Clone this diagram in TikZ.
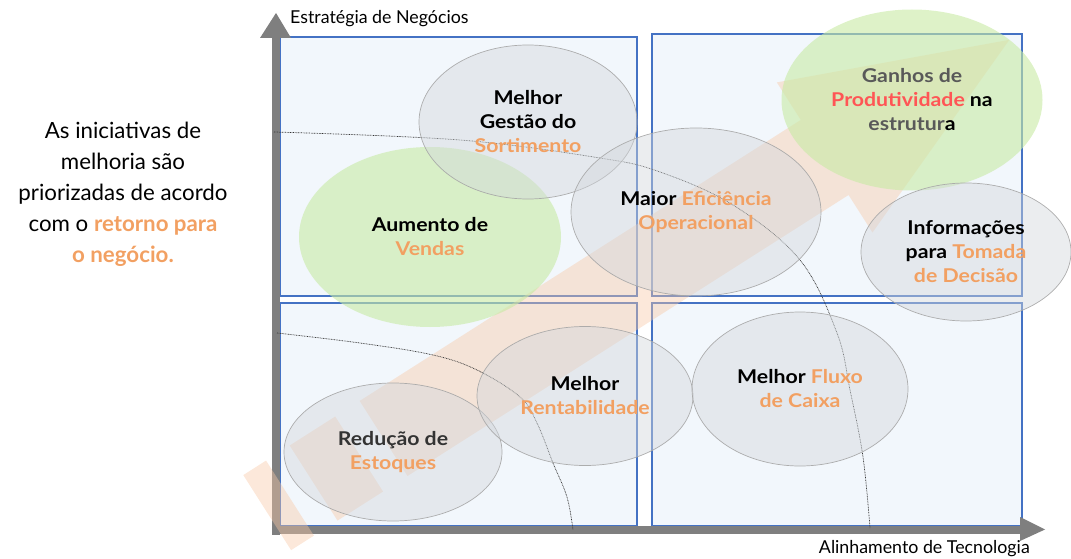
\documentclass[tikz,border=0pt]{standalone}
\usepackage{fontspec}
\setmainfont{Lato}
\newfontfamily\widefont[FakeStretch=1.12]{Lato}
\usetikzlibrary{shapes.geometric}
\definecolor{qblue}{HTML}{4472C4}
\definecolor{qfill}{HTML}{F2F7FC}
\definecolor{axgray}{HTML}{7F7F7F}
\definecolor{peach}{HTML}{F8C8A6}
\definecolor{orng}{HTML}{F2A062}
\definecolor{redt}{HTML}{FF5555}
\definecolor{dgray}{HTML}{595959}
\definecolor{ellfill}{HTML}{D3D7DC}
\definecolor{ellline}{HTML}{A6A6A6}
\definecolor{grn}{HTML}{C8EAA4}
\begin{document}
\begin{tikzpicture}[x=1pt,y=-1pt,
  quad/.style={draw=qblue,fill=qfill,line width=1.4pt},
  axis/.style={fill=axgray,draw=none},
  stripe/.style={fill=peach,fill opacity=0.42},
  ell/.style={ellipse,draw=ellline,fill=ellfill,fill opacity=0.45,draw opacity=0.9,text opacity=1,line width=0.7pt,inner sep=0pt,align=center,font=\widefont\bfseries\fontsize{19}{24}\selectfont},
  gell/.style={ellipse,draw=none,fill=grn,fill opacity=0.6,text opacity=1,inner sep=0pt,align=center,font=\widefont\bfseries\fontsize{19}{24}\selectfont},
  dotc/.style={draw=black!80,line width=0.7pt,dash pattern=on 0.8pt off 0.8pt},
  lbl/.style={inner sep=0pt,font=\fontsize{17.8}{20}\selectfont}
]
\useasboundingbox (0,0) rectangle (1071,559);
% quadrants
\draw[quad] (280,37) rectangle (637,296);
\draw[quad] (652,34) rectangle (1022,296);
\draw[quad] (280,303) rectangle (637,526);
\draw[quad] (652,303) rectangle (1022,526);
% axes
\fill[axis] (272,535) rectangle (280,37);
\fill[axis] (260,38) -- (276,13) -- (291,38) -- cycle;
\fill[axis] (272,526) rectangle (1021,534);
\fill[axis] (1020,517) -- (1045,529.5) -- (1020,541) -- cycle;
% big striped arrow
\begin{scope}[shift={(267.2,512.6)},rotate=32.5,y=1pt]
  \fill[stripe] (0,-44.5) rectangle (27,44.5);
  \fill[stripe] (55,-44.5) rectangle (109,44.5);
  \fill[stripe] (138,-44.5) -- (661,-44.5) -- (661,-89) -- (880,0) -- (661,89) -- (661,44.5) -- (138,44.5) -- cycle;
\end{scope}
% dotted curves
\draw[dotc] plot[smooth,tension=0.6] coordinates {(274,132) (460,140) (600,158) (660,172) (733,205) (800,260) (837,333) (850,390) (863,457) (870,528)};
\draw[dotc] plot[smooth,tension=0.6] coordinates {(277,333) (360,343) (433,355) (477,370) (520,397) (537,423) (553,463) (567,497) (573,530)};
% ellipses
\node[gell,minimum width=262,minimum height=180] (vendas) at (430,237) {Aumento de\\{\color{orng}Vendas}};
\node[ell,minimum width=218,minimum height=154] (sort) at (528,122) {Melhor\\Gestão do\\{\color{orng}Sortimento}};
\node[ell,minimum width=250,minimum height=168] (efic) at (696,212) {Maior {\color{orng}Eficiência}\\{\color{orng}Operacional}};
\node[gell,minimum width=261,minimum height=181] (prod) at (912,100) {{\color{dgray}Ganhos de}\\{\color{redt}Produtividade} na\\{\color{dgray}estrutur}a};
\node[ell,minimum width=210,minimum height=138] (info) at (966,252) {Informações\\para {\color{orng}Tomada}\\{\color{orng}de Decisão}};
\node[ell,minimum width=218,minimum height=138] (estq) at (393,452) {{\color{black!80}Redução de}\\{\color{orng}Estoques}};
\node[ell,minimum width=216,minimum height=139] (rent) at (585,396) {Melhor\\{\color{orng}Rentabilidade}};
\node[ell,minimum width=216,minimum height=154] (caixa) at (800,389) {Melhor {\color{orng}Fluxo}\\{\color{orng}de Caixa}};
% labels
\node[lbl,anchor=west] (ylab) at (290,19) {Estratégia de Negócios};
\node[lbl,anchor=east] (xlab) at (1030,549) {Alinhamento de Tecnologia};
\node[inner sep=0pt,align=center,font=\fontsize{22.3}{31}\selectfont] (intro) at (123,194) {As iniciativas de\\melhoria são\\priorizadas de acordo\\com o \textbf{\color{orng}retorno para}\\\textbf{\color{orng}o negócio.}};
\end{tikzpicture}
\end{document}
